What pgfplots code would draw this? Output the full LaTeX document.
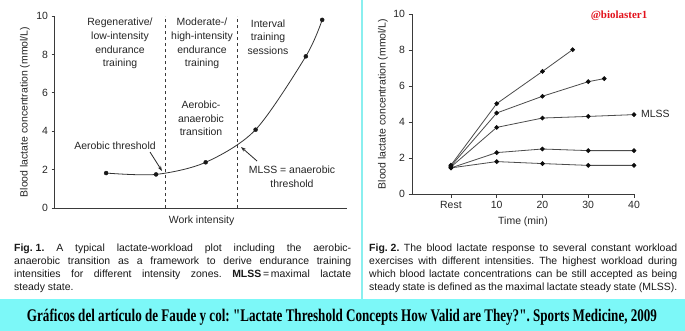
\documentclass[border=0pt]{standalone}
\usepackage{fontspec}
\setmainfont{Liberation Sans}
\newfontfamily\bandfont{Liberation Serif}
\usepackage{pgfplots}
\pgfplotsset{compat=1.18}
\usetikzlibrary{arrows.meta}
\definecolor{axisgray}{HTML}{3A3A3A}
\definecolor{bandcyan}{HTML}{7CF8F8}
\definecolor{divcyan}{HTML}{8AEFEF}
\definecolor{tagred}{HTML}{E3111B}
\newcommand{\fs}{\fontsize{10.5}{13.7}\selectfont}
\frenchspacing
\pgfplotsset{
 myaxis/.style={
  scale only axis,
  axis lines=left,
  axis line style={-, axisgray, line width=1bp},
  tick style={axisgray, line width=0.8bp},
  major tick length=3.5bp,
  tick align=outside,
  /pgf/number format/assume math mode=true,
  tick label style={font=\fs, text=black!85},
  label style={font=\fs, text=black!85},
  clip=false,
 },
 ser/.style={black!70, line width=0.8bp, mark=*, mark size=1.9bp, mark options={black!95, fill=black!95, solid}}
}
\newcommand{\capline}[4]{\node[anchor=base west, inner sep=0pt, font=\fontsize{10.5}{13}\selectfont, text=black!90] at (#1bp,-#2bp) {\frenchspacing\makebox[#3bp][s]{#4}};}
\begin{document}
\begin{tikzpicture}
\fill[white] (0,0) rectangle (685bp,-331bp);
\useasboundingbox (0,0) rectangle (685bp,-331bp);
% divider and band
\fill[divcyan] (361bp,0) rectangle (363bp,-299bp);
\fill[bandcyan] (0,-299bp) rectangle (685bp,-331bp);

% ---------- left chart ----------
\begin{axis}[myaxis, at={(55bp,-208bp)}, anchor=south west, width=292bp, height=192bp,
 xmin=0, xmax=10, ymin=0, ymax=10, xtick=\empty, ytick={0,2,4,6,8,10},
 xlabel={Work intensity}, ylabel={Blood lactate concentration (mmol/L)},
 xlabel style={at={(axis description cs:0.502,-0.066)}, anchor=center},
 ylabel style={at={(axis description cs:-0.103,0.5)}, anchor=center}]
\addplot[axisgray, line width=1bp, dash pattern=on 3.5bp off 2.5bp] coordinates {(3.79,0) (3.79,10)};
\addplot[axisgray, line width=1bp, dash pattern=on 3.5bp off 2.5bp] coordinates {(6.26,0) (6.26,10)};
\addplot[black!80, line width=0.8bp, smooth] coordinates {(1.75,1.82) (3.46,1.75) (5.16,2.38) (6.87,4.08) (8.59,7.9) (9.15,9.8)};
\addplot[only marks, mark=*, mark size=2bp, black!90] coordinates {(1.75,1.82) (3.46,1.75) (5.16,2.38) (6.87,4.08) (8.59,7.9) (9.15,9.8)};
\end{axis}

\begin{scope}[every node/.style={font=\fs, text=black!85, align=center, inner sep=0pt}]
\node at (120bp,-43.5bp) {Regenerative/\\low-intensity\\endurance\\training};
\node at (202bp,-43.5bp) {Moderate-/\\high-intensity\\endurance\\training};
\node at (268bp,-37bp) {Interval\\training\\sessions};
\node at (201bp,-118.5bp) {Aerobic-\\anaerobic\\transition};
\node at (115bp,-146bp) {Aerobic threshold};
\node at (292bp,-176.5bp) {MLSS = anaerobic\\threshold};
\end{scope}
\draw[black!85, line width=0.8bp, -{Stealth[length=5bp,width=3.5bp]}] (150bp,-152bp) -- (162bp,-171bp);
\draw[black!85, line width=0.8bp, -{Stealth[length=5bp,width=3.5bp]}] (257bp,-161bp) -- (241bp,-147bp);

% ---------- right chart ----------
\begin{axis}[myaxis, at={(412bp,-194bp)}, anchor=south west, width=222bp, height=180bp,
 xmin=-8.5, xmax=40, ymin=0, ymax=10, xtick={0,10,20,30,40}, xticklabels={Rest,10,20,30,40},
 ytick={0,2,4,6,8,10},
 xlabel={Time (min)}, ylabel={Blood lactate concentration (mmol/L)},
 xlabel style={at={(axis description cs:0.5,-0.154)}, anchor=center},
 ylabel style={at={(axis description cs:-0.131,0.5)}, anchor=center}]
\addplot[ser] coordinates {(0,1.6) (10,5.02) (20,6.81) (26.6,8.02)};
\addplot[ser] coordinates {(0,1.55) (10,4.5) (20,5.43) (30,6.24) (33.5,6.41)};
\addplot[ser] coordinates {(0,1.5) (10,3.7) (20,4.22) (30,4.31) (40,4.41)};
\addplot[ser] coordinates {(0,1.45) (10,2.3) (20,2.5) (30,2.41) (40,2.41)};
\addplot[ser] coordinates {(0,1.45) (10,1.8) (20,1.69) (30,1.59) (40,1.59)};
\end{axis}
\node[anchor=west, inner sep=0pt, font=\fs, text=black!85] at (641bp,-113.5bp) {MLSS};
\node[inner sep=0pt, text=tagred, font=\bandfont\bfseries\fontsize{11}{12}\selectfont] at (619bp,-15.5bp) {@biolaster1};

% ---------- captions ----------
\capline{14}{251.5}{337}{\hbox{\textbf{Fig. 1.}} A typical lactate-workload plot including the aerobic-}
\capline{14}{264.5}{337}{anaerobic transition as a framework to derive endurance training}
\capline{14}{277.5}{337}{intensities for different intensity zones. \textbf{MLSS}\,=\,maximal lactate}
\node[anchor=base west, inner sep=0pt, font=\fontsize{10.5}{13}\selectfont, text=black!90] at (14bp,-290.5bp) {steady state.};
\capline{369}{251.5}{308}{\hbox{\textbf{Fig. 2.}} The blood lactate response to several constant workload}
\capline{369}{264.5}{308}{exercises with different intensities. The highest workload during}
\capline{369}{277.5}{308}{which blood lactate concentrations can be still accepted as being}
\capline{369}{290.5}{308}{steady state is defined as the maximal lactate steady state (MLSS).}

% ---------- band text ----------
\node[inner sep=0pt] at (342bp,-317bp) {\resizebox{630bp}{12.5bp}{\bandfont\bfseries Gráficos del artículo de Faude y col: "Lactate Threshold Concepts How Valid are They?". Sports Medicine, 2009}};
\end{tikzpicture}
\end{document}
